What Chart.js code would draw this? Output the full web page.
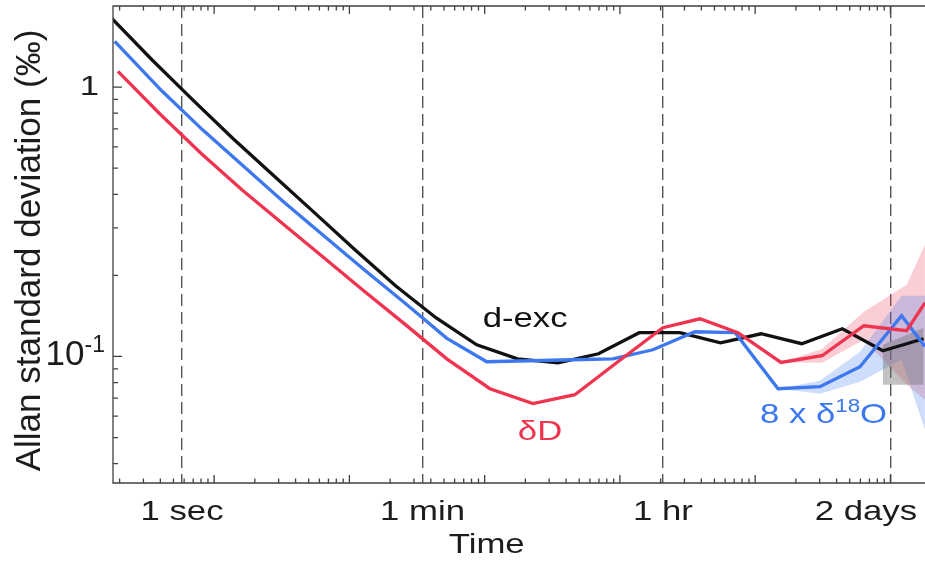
<!DOCTYPE html>
<html>
<head>
<meta charset="utf-8">
<title>Allan standard deviation</title>
<script src="https://cdn.jsdelivr.net/npm/chart.js@4.4.1/dist/chart.umd.min.js"></script>
<style>
  html, body { margin: 0; padding: 0; background: #fff; overflow: hidden; }
</style>
</head>
<body>
<canvas id="allanChart" width="925" height="565"></canvas>
<script>
// averaging time (seconds) and Allan deviation (permil)
const excTau = [0.300, 0.599, 1.20, 2.39, 4.77, 9.52, 19.0, 37.9, 75.8, 151, 302, 603, 1200, 2400, 4800, 9580, 19100, 38200, 76300, 152000, 304000];
const excDev = [1.808, 1.263, 0.897, 0.643, 0.469, 0.342, 0.249, 0.183, 0.139, 0.1105, 0.0980, 0.0947, 0.1023, 0.1225, 0.1225, 0.1124, 0.1214, 0.1115, 0.1267, 0.1050, 0.1163];
const excLow = [null, null, null, null, null, null, null, null, null, null, null, null, null, null, null, null, null, null, null, 0.0785, 0.0785];
const excHigh = [null, null, null, null, null, null, null, null, null, null, null, null, null, null, null, null, null, null, null, 0.1105, 0.1278];

const o18Tau = [0.318, 0.708, 1.42, 2.85, 5.68, 11.4, 22.7, 45.1, 90.3, 179, 373, 763, 1530, 3030, 6200, 12300, 25500, 52100, 103000, 209000, 311000];
const o18Dev = [1.477, 0.969, 0.694, 0.508, 0.374, 0.278, 0.208, 0.157, 0.117, 0.0956, 0.0964, 0.0972, 0.0980, 0.1059, 0.1235, 0.1225, 0.0759, 0.0772, 0.0916, 0.1416, 0.1089];
const o18Low = [null, null, null, null, null, null, null, null, null, null, null, null, null, null, null, null, 0.0759, 0.0727, 0.0805, 0.0972, 0.0534];
const o18High = [null, null, null, null, null, null, null, null, null, null, null, null, null, null, null, null, 0.0759, 0.0812, 0.1041, 0.1680, 0.1680];

const dDTau = [0.336, 0.684, 1.38, 2.77, 5.56, 11.2, 22.5, 45.1, 90.7, 189, 393, 803, 1670, 3590, 6750, 12900, 26800, 53900, 110000, 228000, 311000];
const dDDev = [1.143, 0.796, 0.568, 0.416, 0.311, 0.2325, 0.174, 0.131, 0.098, 0.0759, 0.0668, 0.0721, 0.0956, 0.1278, 0.138, 0.1225, 0.095, 0.1006, 0.130, 0.1246, 0.1582];
const dDLow = [null, null, null, null, null, null, null, null, null, null, null, null, null, null, null, null, 0.0950, 0.0947, 0.1153, 0.0785, 0.0691];
const dDHigh = [null, null, null, null, null, null, null, null, null, null, null, null, null, null, null, null, 0.0950, 0.1066, 0.1466, 0.1845, 0.2598];

// axis marks
const timeTicks = [1, 60, 3600, 172800];
const timeLabels = ['1 sec', '1 min', '1 hr', '2 days'];
const minorBase = 1.728; // decade ticks of the underlying axis
const devTicks = [1, 0.1];
const devLabels = [['1', ''], ['10', '-1']];

// series labels: [text, superscript, tail, tau, dev]
const seriesLabels = [
  ['d-exc', '', '', 167, 0.1289],
  ['δD', '', '', 304, 0.0491],
  ['8 x δ', '18', 'O', 18750, 0.0567]
];

const BLACK = '#111111';
const BLUE = '#3d78ef';
const RED = '#f0344f';
const FONT = '"Liberation Sans", Arial, Helvetica, sans-serif';
const WIDE = 1.24;

function pts(tau, vals) {
  return tau.map((t, i) => ({ x: t, y: vals[i] }));
}

function wideText(ctx, text, x, y, size, align, color, stretch) {
  const s = stretch || WIDE;
  ctx.save();
  ctx.font = size + 'px ' + FONT;
  const w = ctx.measureText(text).width * s;
  const x0 = align === 'center' ? x - w / 2 : align === 'right' ? x - w : x;
  ctx.translate(x0, y);
  ctx.scale(s, 1);
  ctx.fillStyle = color;
  ctx.textAlign = 'left';
  ctx.textBaseline = 'alphabetic';
  ctx.fillText(text, 0, 0);
  ctx.restore();
  return w;
}

function textWidth(ctx, text, size, stretch) {
  ctx.save();
  ctx.font = size + 'px ' + FONT;
  const w = ctx.measureText(text).width * (stretch || WIDE);
  ctx.restore();
  return w;
}

const matlabAxes = {
  id: 'matlabAxes',
  afterDatasetsDraw(chart) {
    const { ctx, chartArea: a, scales: { x, y } } = chart;
    ctx.save();
    ctx.strokeStyle = '#404040';
    ctx.lineWidth = 1.3;
    ctx.beginPath();
    ctx.moveTo(a.right, a.top);
    ctx.lineTo(a.left, a.top);
    ctx.lineTo(a.left, a.bottom);
    ctx.lineTo(a.right, a.bottom);

    for (let k = -1; k <= 5; k++) {
      for (let m = 1; m <= 9; m++) {
        const v = minorBase * m * Math.pow(10, k);
        if (v <= x.min || v >= x.max) continue;
        const px = x.getPixelForValue(v);
        const len = m === 1 ? 8 : 4.5;
        ctx.moveTo(px, a.bottom);
        ctx.lineTo(px, a.bottom - len);
        ctx.moveTo(px, a.top);
        ctx.lineTo(px, a.top + len);
      }
    }
    for (let k = -2; k <= 0; k++) {
      for (let m = 1; m <= 9; m++) {
        const v = m * Math.pow(10, k);
        if (v <= y.min || v >= y.max) continue;
        const py = y.getPixelForValue(v);
        const len = m === 1 ? 9 : 5;
        ctx.moveTo(a.left, py);
        ctx.lineTo(a.left + len, py);
      }
    }
    ctx.stroke();
    ctx.restore();

    const ink = '#1c1c1c';

    // time labels, kept inside the canvas
    timeTicks.forEach((t, i) => {
      const w = textWidth(ctx, timeLabels[i], 28);
      let cx = x.getPixelForValue(t);
      cx = Math.min(cx, chart.width - 8 - w / 2);
      wideText(ctx, timeLabels[i], cx, a.bottom + 37, 28, 'center', ink);
    });
    wideText(ctx, 'Time', x.getPixelForValue(179), a.bottom + 70, 28, 'center', ink);

    // deviation labels
    devTicks.forEach((v, i) => {
      const py = y.getPixelForValue(v);
      const [base, sup] = devLabels[i];
      if (sup) {
        const right = a.left - 8;
        const supW = wideText(ctx, sup, right, py - 4, 23, 'right', ink, 1);
        wideText(ctx, base, right - supW, py + 8.5, 35, 'right', ink, 1);
      } else {
        wideText(ctx, base, a.left - 14, py + 8, 28, 'right', ink);
      }
    });

    // rotated axis title
    ctx.save();
    ctx.translate(40, (a.top + a.bottom) / 2 + 6);
    ctx.rotate(-Math.PI / 2);
    ctx.font = '35px ' + FONT;
    ctx.fillStyle = ink;
    ctx.textAlign = 'center';
    ctx.textBaseline = 'alphabetic';
    ctx.fillText('Allan standard deviation (‰)', 0, 0);
    ctx.restore();

    // series labels
    const colors = [BLACK, RED, BLUE];
    seriesLabels.forEach(([txt, sup, tail, t, v], i) => {
      let px = x.getPixelForValue(t);
      const py = y.getPixelForValue(v);
      px += wideText(ctx, txt, px, py, 28, 'left', colors[i]);
      if (sup) px += wideText(ctx, sup, px, py - 11, 18, 'left', colors[i]);
      if (tail) wideText(ctx, tail, px, py, 28, 'left', colors[i]);
    });
  }
};

const bandBase = { pointRadius: 0, borderWidth: 0, tension: 0, order: 10 };
const lineBase = { pointRadius: 0, borderWidth: 3.3, tension: 0, fill: false };

const ctx = document.getElementById('allanChart').getContext('2d');
new Chart(ctx, {
  type: 'line',
  data: {
    datasets: [
      { ...bandBase, data: pts(excTau, excHigh), fill: false },
      { ...bandBase, data: pts(excTau, excLow), fill: '-1', backgroundColor: 'rgba(110,110,110,0.42)' },
      { ...bandBase, data: pts(o18Tau, o18High), fill: false },
      { ...bandBase, data: pts(o18Tau, o18Low), fill: '-1', backgroundColor: 'rgba(61,120,239,0.25)' },
      { ...bandBase, data: pts(dDTau, dDHigh), fill: false },
      { ...bandBase, data: pts(dDTau, dDLow), fill: '-1', backgroundColor: 'rgba(240,52,79,0.24)' },
      { ...lineBase, label: 'd-exc', data: pts(excTau, excDev), borderColor: BLACK, order: 2 },
      { ...lineBase, label: '8 x δ18O', data: pts(o18Tau, o18Dev), borderColor: BLUE, order: 1 },
      { ...lineBase, label: 'δD', data: pts(dDTau, dDDev), borderColor: RED, order: 0 }
    ]
  },
  options: {
    responsive: false,
    devicePixelRatio: 1,
    animation: false,
    layout: { padding: { left: 113, top: 6, right: 0, bottom: 82 } },
    plugins: { legend: { display: false }, tooltip: { enabled: false } },
    scales: {
      x: {
        type: 'logarithmic',
        min: 0.3088,
        max: 311400,
        bounds: 'data',
        afterBuildTicks: (axis) => { axis.ticks = timeTicks.map(v => ({ value: v })); },
        ticks: { display: false },
        grid: { color: '#555555', lineWidth: 1.4, drawTicks: false },
        border: { display: false, dash: [12, 6] }
      },
      y: {
        type: 'logarithmic',
        min: 0.0339,
        max: 2.0,
        bounds: 'data',
        ticks: { display: false },
        grid: { display: false, drawTicks: false },
        border: { display: false }
      }
    }
  },
  plugins: [matlabAxes]
});
</script>
</body>
</html>
